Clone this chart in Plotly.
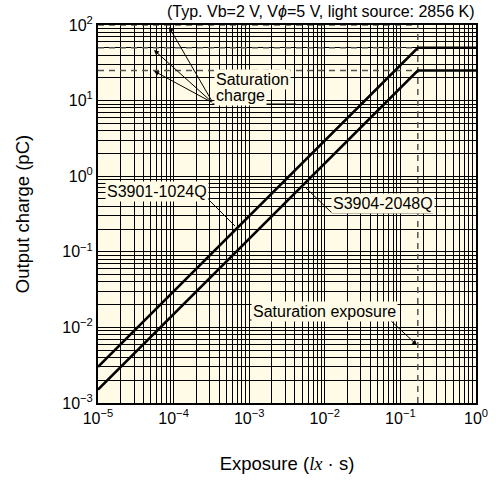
import plotly.graph_objects as go

# data
exposure = [1e-5, 0.17, 1.0]
q_1024 = [3.0e-3, 50.0, 50.0]
q_2048 = [1.5e-3, 25.0, 25.0]
sat_exposure = 0.17
sat_charges = [100.0, 50.0, 25.0]

x_tickvals = [1e-5, 1e-4, 1e-3, 1e-2, 1e-1, 1e0]
x_ticktext = ["10<sup>\u22125</sup>", "10<sup>\u22124</sup>", "10<sup>\u22123</sup>",
              "10<sup>\u22122</sup>", "10<sup>\u22121</sup>", "10<sup>0</sup>"]
y_tickvals = [1e-3, 1e-2, 1e-1, 1e0, 1e1, 1e2]
y_ticktext = ["10<sup>\u22123</sup>", "10<sup>\u22122</sup>", "10<sup>\u22121</sup>",
              "10<sup>0</sup>", "10<sup>1</sup>", "10<sup>2</sup>"]

BG = "#FFFBE6"
FONT = "Liberation Sans, Arial, sans-serif"

W, H = 496, 481
# plot area in page pixels (for placing the callouts)
L, R, T, B = 98, 476, 25, 403


def fx(px):
    return (px - L) / (R - L)


def fy(py):
    return (B - py) / (B - T)


fig = go.Figure()

# saturation guide lines (dashed)
for q in sat_charges:
    fig.add_trace(go.Scatter(x=[exposure[0], sat_exposure], y=[q, q], mode="lines",
                             line=dict(color="#555555", width=1.5, dash="6px,5px"),
                             hoverinfo="skip", showlegend=False))
fig.add_trace(go.Scatter(x=[sat_exposure, sat_exposure], y=[1e-3, 1e2], mode="lines",
                         line=dict(color="#555555", width=1.5, dash="6px,5px"),
                         hoverinfo="skip", showlegend=False))

fig.add_trace(go.Scatter(x=exposure, y=q_1024, mode="lines", name="S3901-1024Q",
                         line=dict(color="black", width=2.6), showlegend=False))
fig.add_trace(go.Scatter(x=exposure, y=q_2048, mode="lines", name="S3904-2048Q",
                         line=dict(color="black", width=2.6), showlegend=False))

ann = []
shapes = []


def label(text, left, cy):
    ann.append(dict(text=text, xref="x domain", yref="y domain", x=fx(left), y=fy(cy),
                    xanchor="left", yanchor="middle", showarrow=False, bgcolor=BG, borderpad=1,
                    font=dict(size=16, color="black", family=FONT)))


def line(x0, y0, x1, y1):
    shapes.append(dict(type="line", xref="x domain", yref="y domain",
                       x0=fx(x0), y0=fy(y0), x1=fx(x1), y1=fy(y1),
                       line=dict(color="black", width=1)))


def arrow(tx, ty, hx, hy):
    ann.append(dict(text="", xref="x domain", yref="y domain", x=fx(hx), y=fy(hy),
                    axref="x domain", ayref="y domain", ax=fx(tx), ay=fy(ty),
                    showarrow=True, arrowhead=2, arrowsize=1, arrowwidth=1,
                    arrowcolor="black", standoff=0))


# Saturation charge
label("Saturation", 214, 80)
label("charge", 214, 95)
line(212, 104, 296, 104)
arrow(213, 103, 169, 27)
arrow(213, 103, 154, 50)
arrow(213, 103, 154, 71)

# Saturation exposure
label("Saturation exposure", 251, 311)
line(250, 320, 390, 320)
arrow(390, 320, 417, 345)

# model labels
label("S3901-1024Q", 105, 191)
line(107, 199, 208, 199)
line(208, 199, 235, 226)

label("S3904-2048Q", 331, 203)
line(332, 213, 433, 213)
line(332, 213, 306, 188)

ann.append(dict(text="(Typ. Vb=2 V, V<i>\u03d5</i>=5 V, light source: 2856 K)",
                xref="x domain", yref="y domain", x=fx(476), y=fy(11),
                xanchor="right", yanchor="middle",
                showarrow=False, font=dict(size=16, color="black", family=FONT)))

axis_common = dict(type="log", showgrid=True, gridcolor="black", gridwidth=1.2,
                   minor=dict(showgrid=True, gridcolor="black", gridwidth=1.1, dtick="D1"),
                   showline=True, linecolor="black", linewidth=2, mirror=True,
                   ticks="", zeroline=False, automargin=False,
                   tickfont=dict(size=16, color="black", family=FONT))

fig.update_xaxes(range=[-5, 0], tickvals=x_tickvals, ticktext=x_ticktext,
                 title=dict(text="Exposure (<i><span style='font-family:Liberation Serif, Times New Roman, serif'>lx</span></i> \u00b7 s)",
                            font=dict(size=18.5, color="black", family=FONT), standoff=31),
                 **axis_common)
fig.update_yaxes(range=[-3, 2], tickvals=y_tickvals, ticktext=y_ticktext,
                 title=dict(text="Output charge (pC)",
                            font=dict(size=18.5, color="black", family=FONT), standoff=28),
                 **axis_common)

fig.update_layout(width=W, height=H,
                  margin=dict(l=L, r=W - R, t=T, b=H - B, pad=0),
                  plot_bgcolor=BG, paper_bgcolor="white",
                  annotations=ann, shapes=shapes, showlegend=False,
                  font=dict(family=FONT, color="black"))

# drop the default 8px body margin so the figure sits at the page corner
fig.write_html("out.html", config={"displayModeBar": False},
               post_script="document.body.style.margin='0';")
